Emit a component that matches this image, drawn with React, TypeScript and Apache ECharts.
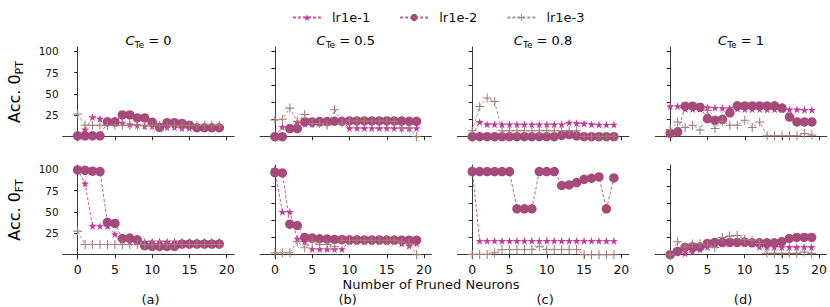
import React, { useEffect, useRef } from "react";
import * as echarts from "echarts";

// ---------- data ----------
const neurons = [0, 1, 2, 3, 4, 5, 6, 7, 8, 9, 10, 11, 12, 13, 14, 15, 16, 17, 18, 19];
const seriesNames = ["lr1e-1", "lr1e-2", "lr1e-3"];
const cteLabels = ["0", "0.5", "0.8", "1"];
const panelLetters = ["(a)", "(b)", "(c)", "(d)"];
const xTicks = [0, 5, 10, 15, 20];
const yTicksFirst = [25, 50, 75, 100];
const yTicksOther = [0, 20, 40, 60, 80, 100];

// Acc. 0_PT (top row)
const pt_c0_lr1 = [1, 8.5, 23, 21, 17, 16, 16.5, 14.5, 13.5, 12.5, 12.5, 11.7, 11, 11, 10, 10, 10, 9.5, 9.5, 9.5];
const pt_c0_lr2 = [1, 1, 1, 1, 17.5, 17.5, 25.5, 25.5, 22, 22, 17, 11, 16.5, 16.5, 15.5, 13.5, 10.5, 10.5, 10.5, 10.5];
const pt_c0_lr3 = [26.5, 13.5, 13.5, 13.5, 13.5, 13.5, 13.5, 13.5, 13.5, 13.5, 13.5, 13.5, 13.5, 13.5, 13.5, 13.5, 13.5, 13.5, 13.5, 13.5];

const pt_c05_lr1 = [0, 11.5, 10, 17, 15, 15, 16, 17, 18, 18, 10, 10, 10, 10, 10, 10, 10, 10, 10, 10];
const pt_c05_lr2 = [0, 0, 9.6, 9.6, 17.3, 17.3, 17.7, 17.7, 18.1, 18.1, 18.5, 18.5, 18.5, 18.5, 18.5, 18.5, 18.5, 18.3, 18, 18];
const pt_c05_lr3 = [19.5, 20.5, 33.5, 18, 26, 15.5, 15.5, 13.5, 31.5, 16, 18.5, 18.5, 18.5, 18.5, 18.5, 18.5, 18, 10, 10, 0];

const pt_c08_lr1 = [2, 17.3, 14.6, 14.5, 14.5, 14.5, 14.5, 14.5, 14.5, 14.5, 14.5, 14.5, 14.5, 16.5, 15.8, 15.5, 14.6, 14.2, 14.2, 14.2];
const pt_c08_lr2 = [0, 0, 0, 0, 0, 0, 0, 0, 0, 0, 0, 0, 1.5, 2.5, 1, 0, 0, 0, 0, 0];
const pt_c08_lr3 = [6.9, 35.4, 45.4, 41.2, 7, 7, 7, 7, 7, 7, 7, 7, 7, 7, 7, 0.5, 0.5, 0.5, 0.5, 0.5];

const pt_c1_lr1 = [35.8, 35.8, 32.5, 32.5, 32.5, 34.6, 33.8, 33.5, 33.5, 32.7, 32.3, 32.3, 32.3, 32, 32, 32, 32, 32, 31.5, 31.5];
const pt_c1_lr2 = [3.8, 5.8, 35.8, 35.8, 34.6, 21.2, 19.2, 20.4, 28, 36.2, 36, 36, 36, 36, 36.2, 33.5, 23, 17.3, 17.3, 17.3];
const pt_c1_lr3 = [8.5, 17.3, 10.8, 13.5, 7.7, 30.8, 9.6, 18, 13.5, 13.5, 19.2, 10.8, 17.3, 1.2, 1.2, 1.2, 1.2, 1.2, 3.8, 1.9];

// Acc. 0_FT (bottom row)
const ft_c0_lr1 = [100, 83.3, 33.9, 33.5, 33.5, 24, 17, 14.8, 14.8, 15.2, 15.5, 15.5, 15.5, 15.5, 15.5, 15.5, 15.5, 15.5, 15.5, 15.5];
const ft_c0_lr2 = [99.2, 98.8, 97.7, 97.3, 38, 36.6, 19, 19.5, 17.5, 10.5, 9.7, 9.7, 9.7, 9.7, 12.5, 12.5, 12.5, 12.5, 12.5, 12.5];
const ft_c0_lr3 = [27.6, 12, 12, 12, 12, 12, 12, 12, 12, 12, 12, 12, 12, 12, 12, 12, 12, 12, 12, 12];

const ft_c05_lr1 = [100, 50.2, 50.2, 18.7, 15.2, 6.6, 6.6, 6.6, 6.6, 6.6, 15.6, 15.6, 15.6, 15.6, 15.6, 15.6, 15.6, 13.2, 10.5, 13.2];
const ft_c05_lr2 = [96.1, 95.7, 35.8, 34.2, 20.2, 19.5, 18.7, 18.3, 17.9, 17.7, 17.5, 17.5, 17.3, 17.3, 17.3, 17.2, 17.2, 17, 17, 17];
const ft_c05_lr3 = [2.3, 2.3, 2.3, 15.2, 8.2, 15.2, 12, 12, 9.3, 17, 17, 17, 17, 17, 17, 17, 17, 15, 13, 0];

const ft_c08_lr1 = [100, 16.3, 16.3, 16.3, 16.3, 16.3, 16.3, 16.3, 16.3, 16.3, 16.3, 16.3, 16.3, 16.3, 16.3, 16.3, 16.3, 16.3, 16.3, 16.3];
const ft_c08_lr2 = [97.3, 97.3, 97.3, 97.3, 97.3, 97.3, 53.7, 53.7, 53.7, 97.3, 97.3, 97.3, 81, 81.7, 84.4, 88.3, 89.5, 91, 53.7, 89.9];
const ft_c08_lr3 = [0.4, 0.4, 0.4, 2.3, 6.2, 6.2, 6.2, 6.2, 6.2, 10, 6.2, 6.2, 6.2, 6.2, 6.2, 0, 0, 0, 0, 0];

const ft_c1_lr1 = [0, 3.9, 1.6, 3.5, 6.2, 9.3, 11.3, 13.2, 13.2, 13.2, 13.2, 13.2, 9.3, 9, 9, 9, 9, 9, 9, 9];
const ft_c1_lr2 = [0, 3.9, 8.6, 9.3, 9.3, 13.2, 14.4, 14.4, 14.4, 14.4, 14.8, 14, 14, 14, 14, 15.2, 19, 20.2, 20.2, 20.2];
const ft_c1_lr3 = [0, 15.2, 9.3, 12.5, 13.2, 11.3, 8.6, 20.2, 21.8, 22.6, 17.9, 17, 13.2, 1.6, 1.6, 1.6, 1.6, 1.6, 3.1, 1.6];

const ptPanels = [
  [pt_c0_lr1, pt_c0_lr2, pt_c0_lr3],
  [pt_c05_lr1, pt_c05_lr2, pt_c05_lr3],
  [pt_c08_lr1, pt_c08_lr2, pt_c08_lr3],
  [pt_c1_lr1, pt_c1_lr2, pt_c1_lr3],
];
const ftPanels = [
  [ft_c0_lr1, ft_c0_lr2, ft_c0_lr3],
  [ft_c05_lr1, ft_c05_lr2, ft_c05_lr3],
  [ft_c08_lr1, ft_c08_lr2, ft_c08_lr3],
  [ft_c1_lr1, ft_c1_lr2, ft_c1_lr3],
];

// ---------- style ----------
const COLORS = ["#c4379d", "#a6497b", "#a67f76"];
const STAR =
  "path://M50,0 L61,35 L98,35 L68,57 L79,91 L50,70 L21,91 L32,57 L2,35 L39,35 Z";
const PLUS = "path://M4.4,0 H5.6 V4.4 H10 V5.6 H5.6 V10 H4.4 V5.6 H0 V4.4 H4.4 Z";
const SYMBOLS = [STAR, "circle", PLUS];
const SYMBOL_SIZES = [8, 9.5, 9];
const FONT = "DejaVu Sans";

const COL_LEFT = [62.7, 260, 457.3, 655.3];
const GRID_W = 171.5;
const ROW_TOP = [47, 165];
const GRID_H = 94;

export default function App() {
  const ref = useRef<HTMLDivElement>(null);

  useEffect(() => {
    if (!ref.current) return;
    const chart = echarts.init(ref.current, undefined, { renderer: "svg" });

    const grids: any[] = [];
    const xAxes: any[] = [];
    const yAxes: any[] = [];
    const series: any[] = [];
    const axisLine = { show: true, lineStyle: { color: "#222", width: 0.9 } };

    [ptPanels, ftPanels].forEach((row, r) => {
      row.forEach((panel, c) => {
        const idx = grids.length;
        grids.push({
          left: COL_LEFT[c],
          top: ROW_TOP[r],
          width: GRID_W,
          height: GRID_H,
          containLabel: false,
        });
        xAxes.push({
          type: "value",
          gridIndex: idx,
          min: -2,
          max: 21,
          splitLine: { show: false },
          axisLine,
          axisTick: { show: true, length: 3.5, lineStyle: { color: "#222" }, customValues: xTicks },
          axisLabel: {
            show: r === 1,
            customValues: xTicks,
            fontFamily: FONT,
            fontSize: 12.5,
            color: "#111",
            margin: 4,
          },
        });
        const yt = c === 0 ? yTicksFirst : yTicksOther;
        yAxes.push({
          type: "value",
          gridIndex: idx,
          min: -5,
          max: 105,
          splitLine: { show: false },
          axisLine,
          axisTick: { show: true, length: 3.5, lineStyle: { color: "#222" }, customValues: yt },
          axisLabel: {
            show: c === 0,
            customValues: yt,
            fontFamily: FONT,
            fontSize: 10.5,
            color: "#111",
            margin: 4,
          },
        });
        panel.forEach((vals, s) => {
          series.push({
            name: seriesNames[s],
            type: "line",
            xAxisIndex: idx,
            yAxisIndex: idx,
            data: neurons.map((n, i) => [n, vals[i]]),
            symbol: SYMBOLS[s],
            symbolSize: SYMBOL_SIZES[s],
            showAllSymbol: true,
            color: COLORS[s],
            itemStyle: { color: COLORS[s] },
            lineStyle: { color: COLORS[s], width: 1, type: [3, 2], opacity: 0.85 },
            emphasis: { disabled: true },
          });
        });
      });
    });

    const richTitle = {
      c: { fontFamily: FONT, fontSize: 13, fontStyle: "italic", color: "#111", lineHeight: 18 },
      s: { fontFamily: FONT, fontSize: 9, color: "#111", lineHeight: 8, verticalAlign: "bottom" },
      t: { fontFamily: FONT, fontSize: 13, color: "#111", lineHeight: 18 },
    };
    const richY = {
      a: { fontFamily: FONT, fontSize: 16, color: "#111", lineHeight: 22 },
      s: { fontFamily: FONT, fontSize: 11, color: "#111", lineHeight: 10, verticalAlign: "bottom" },
    };

    const graphics: any[] = [];
    cteLabels.forEach((lbl, c) => {
      graphics.push({
        type: "text",
        x: COL_LEFT[c] + GRID_W / 2,
        y: 40,
        style: {
          text: `{c|C}{s|Te}{t| = ${lbl}}`,
          rich: richTitle,
          align: "center",
          verticalAlign: "middle",
        },
      });
      graphics.push({
        type: "text",
        x: COL_LEFT[c] + GRID_W / 2 + 2,
        y: 299,
        style: {
          text: panelLetters[c],
          fontFamily: FONT,
          fontSize: 13,
          fill: "#111",
          align: "center",
          verticalAlign: "middle",
        },
      });
    });
    ["PT", "FT"].forEach((sub, r) => {
      graphics.push({
        type: "text",
        x: 14,
        y: ROW_TOP[r] + GRID_H / 2 - 2,
        rotation: Math.PI / 2,
        style: {
          text: `{a|Acc. 0}{s|${sub}}`,
          rich: richY,
          align: "center",
          verticalAlign: "middle",
        },
      });
    });
    graphics.push({
      type: "text",
      x: 431,
      y: 284,
      style: {
        text: "Number of Pruned Neurons",
        fontFamily: FONT,
        fontSize: 13,
        fill: "#111",
        align: "center",
        verticalAlign: "middle",
      },
    });

    chart.setOption({
      animation: false,
      backgroundColor: "#fff",
      legend: {
        data: seriesNames,
        left: 287,
        top: 6,
        itemWidth: 28,
        itemHeight: 9,
        itemGap: 29,
        textStyle: { fontFamily: FONT, fontSize: 13, color: "#111", padding: [0, 0, 0, 6] },
      },
      grid: grids,
      xAxis: xAxes,
      yAxis: yAxes,
      series,
      graphic: graphics,
    });

    return () => chart.dispose();
  }, []);

  return (
    <div
      ref={ref}
      style={{ position: "absolute", left: 0, top: 0, width: 830, height: 307 }}
    />
  );
}
